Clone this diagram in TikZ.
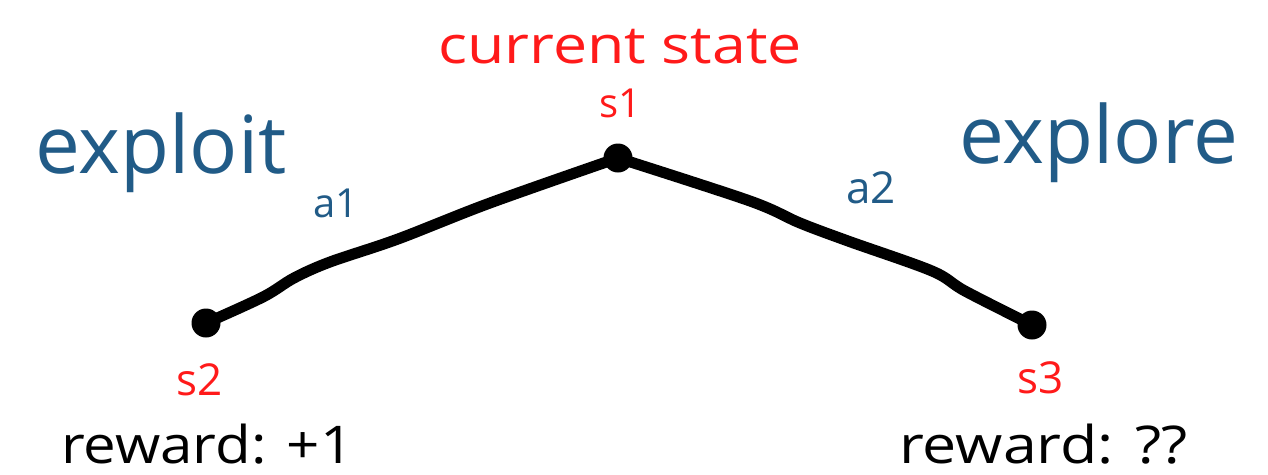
\documentclass[tikz,border=0pt]{standalone}
\usepackage{fontspec}
\setmainfont{Open Sans}
\newfontfamily\widefont[FakeStretch=1.17]{Open Sans}
\newfontfamily\midfont[FakeStretch=1.12]{Open Sans}
\definecolor{hred}{HTML}{FF1A1A}
\definecolor{hblue}{HTML}{215B87}
\begin{document}
\begin{tikzpicture}[x=1pt,y=-1pt,
  dot/.style={circle,fill=black,inner sep=0pt,minimum size=29pt},
  edge/.style={line width=11pt,line cap=round,line join=round},
  lbl/.style={inner sep=0pt,anchor=base},
  lblw/.style={inner sep=0pt,anchor=base west}]
\useasboundingbox[fill=white] (0,0) rectangle (1268,474);
% states
\node[dot] (s1) at (618,158) {};
\node[dot] (s2) at (206,323) {};
\node[dot] (s3) at (1032,325) {};
% path waypoints
\coordinate (l1) at (263,297);
\coordinate (l2) at (294,278);
\coordinate (l3) at (330,262);
\coordinate (l4) at (398,239);
\coordinate (l5) at (490,203);
\coordinate (r1) at (750,201);
\coordinate (r2) at (800,223);
\coordinate (r3) at (848,241);
\coordinate (r4) at (932,271);
\coordinate (r5) at (965,291);
\draw[edge] plot[smooth,tension=0.55] coordinates {(s2) (l1) (l2) (l3) (l4) (l5) (s1)};
\draw[edge] plot[smooth,tension=0.55] coordinates {(s1) (r1) (r2) (r3) (r4) (r5) (s3)};
% labels
\node[lbl,text=hred,font=\widefont\fontsize{52}{52}\selectfont] (cur) at (620,63) {current state};
\node[lbl,text=hred,font=\fontsize{40}{40}\selectfont] (t1) at (620,117) {s1};
\node[lbl,text=hred,font=\fontsize{44}{44}\selectfont] (t2) at (200,395) {s2};
\node[lbl,text=hred,font=\fontsize{44}{44}\selectfont] (t3) at (1041,393) {s3};
\node[lblw,text=hblue,font=\fontsize{80}{80}\selectfont] (exploit) at (35,173) {exploit};
\node[lblw,text=hblue,font=\fontsize{80}{80}\selectfont] (explore) at (959,163) {explore};
\node[lbl,text=hblue,font=\fontsize{40}{40}\selectfont] (a1) at (336,217) {a1};
\node[lbl,text=hblue,font=\fontsize{44}{44}\selectfont] (a2) at (871,203) {a2};
\node[lblw,text depth=0pt,font=\midfont\fontsize{52}{52}\selectfont] (rw2) at (61,463) {reward: +1};
\node[lblw,text depth=0pt,font=\widefont\fontsize{52}{52}\selectfont] (rw3) at (899,463) {reward: ??};
\end{tikzpicture}
\end{document}
